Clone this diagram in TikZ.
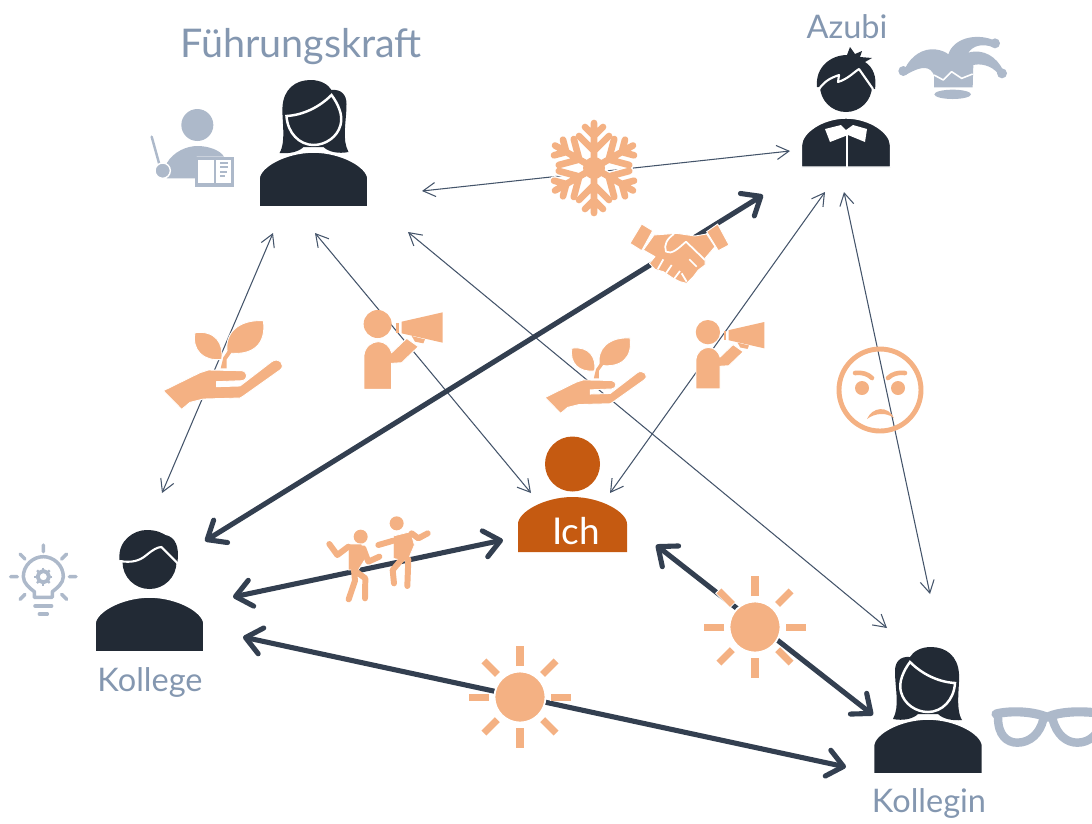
\documentclass[tikz,border=0pt]{standalone}
\usepackage{fontspec}
\setmainfont{Lato}
\usetikzlibrary{arrows.meta}
\definecolor{inkdark}{HTML}{222A35}
\definecolor{linkdark}{HTML}{333F50}
\definecolor{linkthin}{HTML}{44546A}
\definecolor{peach}{HTML}{F4B183}
\definecolor{rust}{HTML}{C55A11}
\definecolor{greyblue}{HTML}{ADB9CA}
\definecolor{labelblue}{HTML}{8497B0}
\tikzset{
    thinlink/.style={{Straight Barb[length=7pt,width=8pt]}-{Straight Barb[length=7pt,width=8pt]}, linkthin, line width=.6pt},
    thicklink/.style={{Straight Barb[length=9pt,width=15pt,round]}-{Straight Barb[length=9pt,width=15pt,round]}, linkdark, line width=2.9pt},
    caption/.style={text=labelblue, font=\fontsize{18.5pt}{18.5pt}\selectfont, inner sep=0pt},
    ink/.style={fill=inkdark, draw=white, line width=.9pt},
    peachy/.style={fill=peach, draw=white, line width=.5pt},
    greyline/.style={draw=greyblue, fill=none, line cap=round},
    dancer/.style={draw=peach, line width=3.4pt, line cap=round, line join=round},
    torso/.pic={
        \path[pic actions] (-54.5,0) -- (-54.5,-28) .. controls (-54.5,-40) and (-28,-55) .. (0,-55)
            .. controls (28,-55) and (54.5,-40) .. (54.5,-28) -- (54.5,0) -- cycle;
    },
    woman/.pic={
        \fill[inkdark] (-34,-54) .. controls (-27,-65) and (-32,-90) .. (-31,-100)
            .. controls (-30,-118) and (-18,-127) .. (-3,-127) .. controls (8,-127) and (15,-122) .. (18,-117)
            .. controls (28,-118) and (33,-112) .. (33,-103) .. controls (33,-85) and (28,-68) .. (35,-55)
            .. controls (25,-53) and (15,-55) .. (10,-60) -- (-10,-60)
            .. controls (-15,-55) and (-25,-53) .. (-34,-54) -- cycle;
        \draw[fill=inkdark, draw=white, line width=1.4pt] (-27,-91) .. controls (-10,-92) and (6,-100) .. (18,-112)
            .. controls (24,-104) and (30,-92) .. (27,-82) .. controls (24,-70) and (12,-62) .. (0,-62)
            .. controls (-14,-62) and (-26,-74) .. (-27,-91) -- cycle;
        \pic[ink] {torso};
    },
    youngster/.pic={
        \fill[inkdark] (0,-81) circle (26);
        \fill[inkdark] (-29,-80) .. controls (-31,-100) and (-15,-112) .. (1,-112) -- (4,-120) -- (9,-113) -- (16,-116) -- (14,-110) -- (26,-109) -- (19,-105)
            .. controls (27,-100) and (31,-90) .. (29,-78) -- cycle;
        \draw[white, line width=1.2pt, line join=round] (-27,-78) .. controls (-20,-88) and (-12,-90) .. (-7,-92)
            -- (-8,-85) .. controls (2,-88) and (8,-95) .. (13,-98) -- (27,-78);
        \draw[fill=inkdark, draw=white, line width=.8pt] (-44.5,0) -- (-44.5,-22) .. controls (-44.5,-34) and (-24,-49) .. (0,-49)
            .. controls (24,-49) and (44.5,-34) .. (44.5,-22) -- (44.5,0) -- cycle;
        \fill[white] (-21,-38) -- (-5,-42) -- (0,-37) -- (7,-42) -- (21,-38) -- (19,-25) -- (2,-32) -- (-16,-25) -- cycle;
        \draw[white, line width=.9pt] (1,-32) -- (1,0);
    },
    chap/.pic={
        \fill[inkdark] (0,-90) circle (27);
        \fill[inkdark] (-30,-92) .. controls (-32,-112) and (-15,-122) .. (-3,-122)
            .. controls (8,-122) and (12,-119) .. (16,-117) .. controls (26,-115) and (30,-105) .. (28,-90) -- cycle;
        \draw[white, line width=1.2pt, line join=round] (-30,-91) .. controls (-18,-89) and (-10,-91) .. (-3,-97)
            .. controls (3,-102) and (8,-105) .. (12,-105) -- (28,-89);
        \pic[ink] {torso};
    },
    plant/.pic={
        \begin{scope}[scale=1/3]
        \path[peachy] (40,272) -- (150,218) -- (175,210) -- (275,212) .. controls (295,215) and (295,240) .. (275,242)
            -- (200,245) -- (200,260) -- (270,258) -- (365,185) .. controls (385,170) and (410,195) .. (390,210)
            -- (280,288) -- (270,294) -- (160,297) -- (120,307) -- (95,328) -- cycle;
        \path[peachy] (135,98) .. controls (195,90) and (222,130) .. (215,178) .. controls (160,185) and (125,150) .. (135,98) -- cycle;
        \path[peachy] (340,62) .. controls (265,58) and (222,100) .. (232,158) .. controls (310,170) and (350,130) .. (340,62) -- cycle;
        \fill[peach] (212,205) -- (230,205) -- (230,178) -- (250,150) -- (235,150) -- (220,172) -- cycle;
        \end{scope}
    },
    crier/.pic={
        \begin{scope}[scale=1/3]
        \fill[peach] (683,72) circle (42);
        \path[peachy] (642,268) -- (642,165) .. controls (645,140) and (665,125) .. (685,125)
            .. controls (705,125) and (720,140) .. (725,158) -- (770,115) -- (805,140) -- (755,188) -- (725,190) -- (725,268) -- cycle;
        \fill[peach] (755,65) -- (878,37) -- (878,128) -- (755,100) -- cycle;
        \fill[peach] (738,68) -- (747,68) -- (747,100) -- (738,100) -- cycle;
        \fill[peach] (785,108) -- (825,118) -- (820,130) -- (795,125) -- cycle;
        \end{scope}
    },
    shake/.pic={
        \begin{scope}[scale=1/3]
        \path[peachy] (335,342) -- (368,362) -- (335,422) -- (300,400) -- cycle;
        \path[peachy] (563,342) -- (597,405) -- (565,422) -- (530,365) -- cycle;
        \path[peachy, line join=round] (372,375) -- (440,370) -- (495,378) -- (530,372) -- (555,410) -- (525,445) -- (525,465) -- (505,480)
            -- (490,500) -- (470,520) -- (450,515) -- (430,505) -- (400,485) -- (375,478) -- (358,460) -- (375,440) -- (340,420) -- cycle;
        \draw[white, line width=1pt, line join=round] (432,372) .. controls (412,385) and (400,405) .. (408,425)
            .. controls (425,435) and (445,415) .. (468,395) -- (525,450);
        \draw[white, line width=1pt] (400,448) -- (383,478) (425,465) -- (408,490) (450,483) -- (432,507) (500,470) -- (478,448) (470,515) -- (455,490);
        \end{scope}
    },
    flake/.pic={
        \foreach \w/\c in {5.4pt/white,3.8pt/peach}{
            \foreach \a in {0,60,...,300}{
                \draw[draw=\c, line width=\w, line cap=round, rotate=\a] (0,0) -- (0,-45)
                    (0,-17) -- (-15,-32) (0,-17) -- (15,-32) (0,-32) -- (-9,-41) (0,-32) -- (9,-41);
            }
        }
        \fill[peach] (0,0) circle (11);
    },
    sun/.pic={
        \foreach \a in {0,90,...,270}{
            \draw[draw=white, line width=5pt, rotate=\a] (0,-30) -- (0,-52);
            \draw[draw=peach, line width=4pt, rotate=\a] (0,-31) -- (0,-51);
        }
        \foreach \a in {45,135,...,315}{
            \draw[draw=white, line width=5pt, rotate=\a] (0,-31) -- (0,-52);
            \draw[draw=peach, line width=4pt, rotate=\a] (0,-32) -- (0,-51);
        }
        \draw[fill=peach, draw=white, line width=1pt] (0,0) circle (25.5);
    },
    dancers/.pic={
        \begin{scope}[scale=1/3]
        \fill[peach] (1082,50) circle (21) (1190,10) circle (21);
        \fill[peach, draw=white, line width=.4pt] (1045,72) -- (1085,72) -- (1100,110) -- (1075,150) -- (1045,150) -- cycle;
        \draw[dancer] (1045,80) -- (1012,105) -- (988,72) (1090,85) -- (1105,125) -- (1138,110)
            (1062,150) -- (1065,182) -- (1046,238) (1062,150) -- (1096,175) -- (1095,235);
        \fill[peach, draw=white, line width=.4pt] (1180,48) -- (1232,35) -- (1243,75) -- (1222,125) -- (1180,115) -- cycle;
        \draw[dancer] (1180,62) -- (1135,75) (1235,40) -- (1255,55) -- (1283,40)
            (1205,118) -- (1178,150) -- (1182,190) (1225,118) -- (1222,198);
        \end{scope}
    },
    angry/.pic={
        \draw[peach, line width=2.8pt] (0,0) circle (41);
        \fill[peach] (-18,-2) circle (7) (18,-2) circle (7);
        \draw[peach, line width=2.6pt, line cap=round] (-25,-17) .. controls (-18,-18) and (-12,-16) .. (-8,-12)
            (8,-12) .. controls (12,-16) and (18,-18) .. (25,-17);
        \fill[peach] (-13,29) .. controls (-8,17) and (8,15) .. (14,28) .. controls (6,22) and (-5,23) .. (-13,29) -- cycle;
    },
    teacher/.pic={
        \begin{scope}[scale=1/3]
        \fill[greyblue] (172,315) circle (48);
        \fill[greyblue] (80,475) -- (80,430) .. controls (100,395) and (140,378) .. (172,378) .. controls (205,378) and (240,390) .. (252,410) -- (170,410) -- (170,475) -- cycle;
        \draw[greyline, line width=1.4pt] (35,350) -- (60,440);
        \draw[fill=greyblue, draw=white, line width=.8pt] (68,452) circle (23);
        \draw[fill=white, draw=greyblue, line width=1.8pt] (170,415) rectangle (278,495);
        \draw[draw=greyblue, line width=1.4pt] (225,415) -- (225,500);
        \draw[draw=greyblue, line width=1.1pt] (240,428) -- (265,428) (240,442) -- (265,442) (240,455) -- (262,455) (240,467) -- (255,467);
        \end{scope}
    },
    jester/.pic={
        \begin{scope}[scale=1/3]
        \fill[greyblue] (518,283) ellipse (55 and 14);
        \fill[greyblue] (375,205) .. controls (395,165) and (430,145) .. (465,148) .. controls (485,150) and (500,158) .. (505,163)
            .. controls (520,115) and (585,100) .. (635,118) -- (640,142) .. controls (610,130) and (580,135) .. (565,158)
            .. controls (610,145) and (650,170) .. (670,212) -- (655,222) .. controls (635,195) and (600,190) .. (580,195)
            -- (578,262) -- (462,262) -- (462,225) .. controls (450,200) and (430,195) .. (382,222) -- cycle;
        \fill[greyblue] (370,213) circle (15) (645,130) circle (15) (666,220) circle (15);
        \draw[white, line width=.9pt, line join=round] (462,225) -- (490,240) -- (515,215) -- (545,235) -- (578,222);
        \end{scope}
    },
    bulb/.pic={
        \begin{scope}[scale=1/3]
        \draw[greyline, line width=2pt, line join=round] (103,232) -- (103,215) .. controls (90,205) and (70,190) .. (70,170)
            .. controls (70,135) and (100,110) .. (130,110) .. controls (160,110) and (190,135) .. (190,170)
            .. controls (190,190) and (170,205) .. (157,215) -- (157,232) -- cycle;
        \draw[greyline, line width=2pt] (105,258) -- (155,258) (118,282) -- (142,282);
        \draw[greyline, line width=2pt] (130,75) -- (130,95) (32,170) -- (52,170) (208,170) -- (228,170)
            (60,102) -- (75,117) (200,102) -- (185,117) (60,238) -- (75,223) (200,238) -- (185,223);
        \draw[draw=greyblue, line width=2.2pt] (130,170) circle (17);
        \foreach \a in {0,45,...,315}{
            \draw[draw=greyblue, line width=1.3pt, rotate around={\a:(130,170)}] (130,143) -- (130,150);
        }
        \end{scope}
    },
    specs/.pic={
        \begin{scope}[scale=1/3]
        \draw[greyline, line width=5.2pt, line join=round] (408,222) .. controls (445,212) and (515,212) .. (562,232)
            .. controls (600,212) and (680,212) .. (730,222);
        \draw[greyline, line width=4.8pt] (414,232) .. controls (414,285) and (440,308) .. (472,308)
            .. controls (510,308) and (540,280) .. (550,238);
        \draw[greyline, line width=4.8pt] (578,238) .. controls (590,285) and (620,308) .. (652,308)
            .. controls (690,308) and (722,280) .. (726,232);
        \end{scope}
    }
}
\begin{document}
\begin{tikzpicture}[x=0.02cm,y=-0.02cm]
  \clip (0,0) rectangle (1092,823);

  % link ends
  \coordinate (fkA) at (422,191);
  \coordinate (azF) at (790,151);
  \coordinate (fkK) at (273,233);
  \coordinate (koF) at (162,493);
  \coordinate (fkI) at (315,233);
  \coordinate (icF) at (531,493);
  \coordinate (fkL) at (408,232);
  \coordinate (liF) at (887,628);
  \coordinate (azI) at (825,192);
  \coordinate (icA) at (610,493);
  \coordinate (azL) at (844,192);
  \coordinate (liA) at (930,594);
  \coordinate (azK) at (763,195);
  \coordinate (koA) at (205,541);
  \coordinate (koI) at (233,597);
  \coordinate (icK) at (503,540);
  \coordinate (koL) at (243,637);
  \coordinate (liK) at (846,767);
  \coordinate (icL) at (656,545);
  \coordinate (liI) at (873,715);

  \path[thinlink] (fkA) edge (azF);
  \path[thinlink] (fkK) edge (koF);
  \path[thinlink] (fkI) edge (icF);
  \path[thinlink] (fkL) edge (liF);
  \path[thinlink] (azI) edge (icA);
  \path[thinlink] (azL) edge (liA);

  \path[thicklink] (azK) edge (koA);
  \path[thicklink] (koI) edge (icK);
  \path[thicklink] (koL) edge (liK);
  \path[thicklink] (icL) edge (liI);

  % people
  \pic (chef) at (313.5,207) {woman};
  \pic[xscale=-1] (kollegin) at (928,774) {woman};
  \pic (azubi) at (846,167) {youngster};
  \pic (kollege) at (149.5,652) {chap};
  \pic[fill=rust] (ich) at (572.5,552) {torso};
  \fill[rust] (572.5,464) circle (27.5);

  \node[caption, font=\fontsize{22.5pt}{22.5pt}\selectfont] (lchef) at (301,47) {Führungskraft};
  \node[caption] (lazubi) at (847,27) {Azubi};
  \node[caption] (lkollege) at (150,682) {Kollege};
  \node[caption] (lkollegin) at (929,803) {Kollegin};
  \node[caption, font=\fontsize{21pt}{21pt}\selectfont, text=white] (lich) at (576,531) {Ich};

  % grey symbols
  \pic (stick) at (140,20) {teacher};
  \pic (hat) at (780,0) {jester};
  \pic (idea) at (0,520) {bulb};
  \pic (glasses) at (860,640) {specs};

  % peach symbols
  \pic (snow) at (594,168) {flake};
  \pic (hands) at (530,110) {shake};
  \pic (growA) at (150,300) {plant};
  \pic[scale=.85] (growB) at (533.7,320.4) {plant};
  \pic (shoutA) at (150,300) {crier};
  \pic[scale=.868] (shoutB) at (510.3,311.3) {crier};
  \pic (mad) at (880,390) {angry};
  \pic (fun) at (0,520) {dancers};
  \pic (sunA) at (755,627) {sun};
  \pic (sunB) at (520,697) {sun};
\end{tikzpicture}
\end{document}
